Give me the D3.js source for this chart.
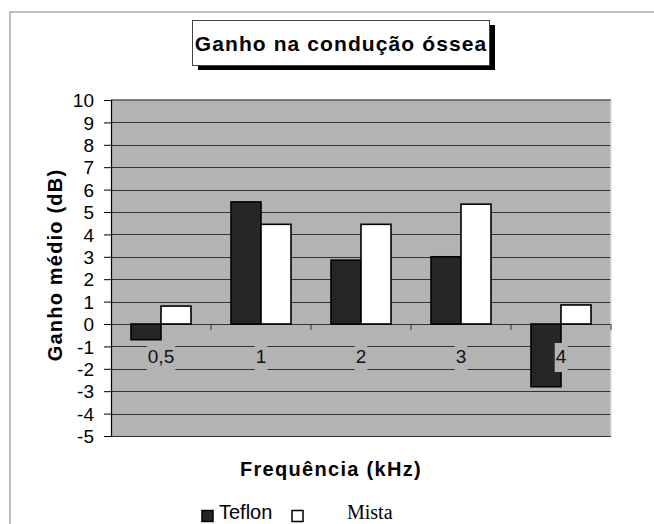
<!DOCTYPE html>
<html>
<head>
<meta charset="utf-8">
<script src="https://cdn.jsdelivr.net/npm/d3@7"></script>
<style>
  body { margin: 0; background: #fff; }
  svg { display: block; }
</style>
</head>
<body>
<div id="chart"></div>
<script>
/*
------------------------------
DATA
------------------------------
*/
const categories = ["0,5", "1", "2", "3", "4"];
const seriesNames = ["Teflon", "Mista"];
const teflon = [-0.7, 5.45, 2.85, 3.0, -2.8];
const mista = [0.8, 4.45, 4.45, 5.35, 0.85];
const yTicks = [10, 9, 8, 7, 6, 5, 4, 3, 2, 1, 0, -1, -2, -3, -4, -5];

/*
------------------------------
SIZE
------------------------------
*/
const width = 654;
const height = 524;
const plot = { left: 111, right: 611, top: 100, bottom: 436 };

const svg = d3.select("#chart").append("svg")
  .attr("width", width)
  .attr("height", height);

// outer frame (runs off the right/bottom of the picture)
svg.append("rect")
  .attr("x", 10).attr("y", 12)
  .attr("width", 700).attr("height", 600)
  .attr("fill", "none")
  .attr("stroke", "#aaa")
  .attr("stroke-width", 1.5);

// scales
const x0 = d3.scaleBand().domain(categories).range([plot.left, plot.right]);
const x1 = d3.scaleBand().domain(seriesNames)
  .range([x0.bandwidth() * 0.2, x0.bandwidth() * 0.8]);
const y = d3.scaleLinear().domain([-5, 10]).range([plot.bottom, plot.top]);

// plot background
svg.append("rect")
  .attr("x", plot.left).attr("y", plot.top)
  .attr("width", plot.right - plot.left)
  .attr("height", plot.bottom - plot.top)
  .attr("fill", "#b3b3b3");

// gridlines
svg.append("g")
  .selectAll("line")
  .data(yTicks.filter(d => d !== 10))
  .join("line")
  .attr("x1", plot.left).attr("x2", plot.right)
  .attr("y1", d => Math.round(y(d)) + 0.5)
  .attr("y2", d => Math.round(y(d)) + 0.5)
  .attr("stroke", "#333")
  .attr("stroke-width", 1);

// top border of plot area
svg.append("line")
  .attr("x1", plot.left).attr("x2", plot.right)
  .attr("y1", plot.top).attr("y2", plot.top)
  .attr("stroke", "#555").attr("stroke-width", 1.5);

// right light edge
svg.append("line")
  .attr("x1", plot.right).attr("x2", plot.right)
  .attr("y1", plot.top).attr("y2", plot.bottom)
  .attr("stroke", "#ddd").attr("stroke-width", 1.5);

// y axis
const yAxis = svg.append("g")
  .attr("transform", `translate(${plot.left},0)`)
  .call(d3.axisLeft(y).tickValues(yTicks).tickSize(7).tickPadding(10)
    .tickFormat(d => String(d)));
yAxis.select(".domain").attr("stroke", "#000").attr("stroke-width", 1.2);
yAxis.selectAll(".tick line").attr("stroke", "#000");
yAxis.selectAll("text")
  .attr("font-family", "Liberation Sans, Arial, sans-serif")
  .attr("font-size", 19)
  .attr("fill", "#000")
  .attr("dy", "0.35em");

// bars
const data = categories.map((c, i) => ({ cat: c, values: [teflon[i], mista[i]] }));
const fills = { Teflon: "#262626", Mista: "#ffffff" };

svg.append("g")
  .selectAll("g")
  .data(data)
  .join("g")
  .attr("transform", d => `translate(${x0(d.cat)},0)`)
  .selectAll("rect")
  .data(d => d.values.map((v, j) => ({ name: seriesNames[j], v: v })))
  .join("rect")
  .attr("x", d => x1(d.name))
  .attr("width", x1.bandwidth())
  .attr("y", d => y(Math.max(0, d.v)))
  .attr("height", d => Math.abs(y(d.v) - y(0)))
  .attr("fill", d => fills[d.name])
  .attr("stroke", "#000")
  .attr("stroke-width", 1.6);

// zero line ticks at category boundaries
svg.append("g")
  .selectAll("line")
  .data(categories)
  .join("line")
  .attr("x1", d => x0(d) + x0.bandwidth())
  .attr("x2", d => x0(d) + x0.bandwidth())
  .attr("y1", y(0)).attr("y2", y(0) + 6)
  .attr("stroke", "#333");

// x category labels with gray boxes
const xLab = svg.append("g")
  .selectAll("g")
  .data(categories)
  .join("g");
xLab.append("rect");
xLab.append("text")
  .attr("x", d => x0(d) + x0.bandwidth() / 2)
  .attr("y", 363)
  .attr("text-anchor", "middle")
  .attr("font-family", "Liberation Sans, Arial, sans-serif")
  .attr("font-size", 19)
  .attr("fill", "#111")
  .text(d => d);
xLab.each(function () {
  const g = d3.select(this);
  const b = g.select("text").node().getBBox();
  g.select("rect")
    .attr("x", b.x - 1).attr("y", 343)
    .attr("width", b.width + 2).attr("height", 29)
    .attr("fill", "#b3b3b3");
});

// title box with shadow
svg.append("rect")
  .attr("x", 198).attr("y", 25).attr("width", 297).attr("height", 45)
  .attr("fill", "#000");
svg.append("rect")
  .attr("x", 192.5).attr("y", 20.5).attr("width", 297).attr("height", 45)
  .attr("fill", "#fff").attr("stroke", "#444").attr("stroke-width", 1);
svg.append("text")
  .attr("x", 341).attr("y", 51)
  .attr("text-anchor", "middle")
  .attr("font-family", "Liberation Sans, Arial, sans-serif")
  .attr("font-size", 21).attr("font-weight", "bold")
  .attr("letter-spacing", 1.1)
  .text("Ganho na condução óssea");

// y axis title
svg.append("text")
  .attr("transform", "translate(62,265) rotate(-90)")
  .attr("text-anchor", "middle")
  .attr("font-family", "Liberation Sans, Arial, sans-serif")
  .attr("font-size", 20).attr("font-weight", "bold")
  .attr("letter-spacing", 1.2)
  .text("Ganho médio (dB)");

// x axis title
svg.append("text")
  .attr("x", 331).attr("y", 476)
  .attr("text-anchor", "middle")
  .attr("font-family", "Liberation Sans, Arial, sans-serif")
  .attr("font-size", 20).attr("font-weight", "bold")
  .attr("letter-spacing", 1.3)
  .text("Frequência (kHz)");

// legend
const legend = [
  { name: seriesNames[0], sx: 202, tx: 219, font: "Liberation Sans, Arial, sans-serif", ty: 519 },
  { name: seriesNames[1], sx: 292, tx: 347, font: "Liberation Serif, Times New Roman, serif", ty: 519 }
];
svg.append("g")
  .selectAll("rect")
  .data(legend)
  .join("rect")
  .attr("x", d => d.sx).attr("y", 510.5)
  .attr("width", 11).attr("height", 11)
  .attr("fill", d => fills[d.name])
  .attr("stroke", "#000").attr("stroke-width", 1.5);
svg.append("g")
  .selectAll("text")
  .data(legend)
  .join("text")
  .attr("x", d => d.tx).attr("y", d => d.ty)
  .attr("font-family", d => d.font)
  .attr("font-size", 20)
  .text(d => d.name);
</script>
</body>
</html>
